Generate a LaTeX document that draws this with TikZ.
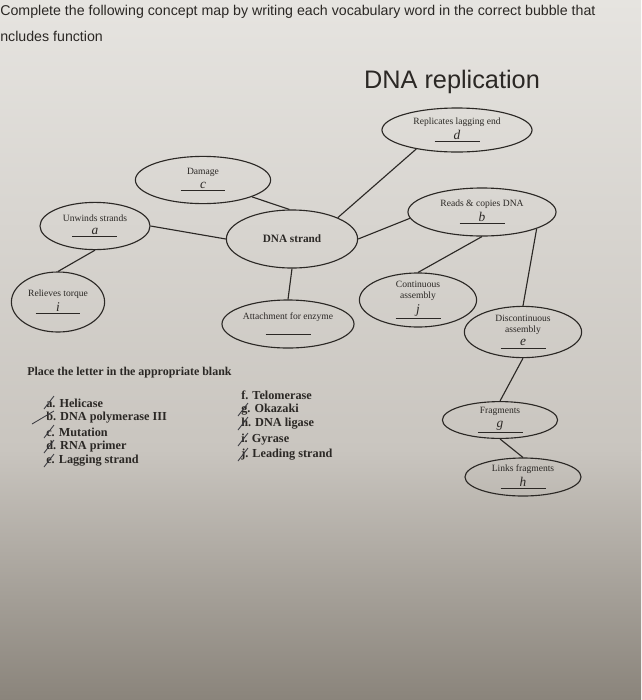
\documentclass[tikz,border=0pt]{standalone}
\usepackage{fontspec}
\setmainfont{Liberation Serif}
\newfontfamily\headfont{Liberation Sans}
\usepackage{tikz}
\usetikzlibrary{shapes.geometric}
\definecolor{ink}{HTML}{2B2825}
\definecolor{pen}{HTML}{3A3A40}
\definecolor{paperhi}{HTML}{E6E4E0}
\definecolor{papermid}{HTML}{C9C5BF}
\definecolor{paperlo}{HTML}{8A847B}
\newcommand{\blank}[1]{\underline{\makebox[32pt]{\fontsize{9.5}{9.5}\selectfont\itshape #1}}}
\tikzset{
  bubble/.style={ellipse,draw=ink,line width=0.8pt,inner sep=0pt,align=center,
    font=\fontsize{6.8}{7.6}\selectfont,text=ink},
  link/.style={draw=ink,line width=0.8pt},
  pen/.style={draw=pen,line width=0.6pt},
  item/.style={anchor=west,inner sep=0pt,font=\fontsize{8.7}{9}\selectfont\bfseries,text=ink},
}

\begin{document}
\begin{tikzpicture}[x=0.025cm,y=-0.025cm]
  % paper
  \useasboundingbox (0,0) rectangle (641,700);
  \clip (0,0) rectangle (641,700);
  \shade[top color=paperhi,bottom color=papermid] (0,0) rectangle (641,450);
  \shade[top color=papermid,bottom color=paperlo] (0,450) rectangle (641,700);

  % heading
  \node[anchor=west,inner sep=0pt,text=ink,font=\headfont\fontsize{10.1}{11}\selectfont] (title1) at (0,12)
    {Complete the following concept map by writing each vocabulary word in the correct bubble that};
  \node[anchor=west,inner sep=0pt,text=ink,font=\headfont\fontsize{10.1}{11}\selectfont] (title2) at (0,36)
    {ncludes function};
  \node[text=ink,font=\headfont\fontsize{18}{20}\selectfont] (head) at (452,82) {DNA replication};

  % bubbles
  \node[bubble,minimum width=3.75cm,minimum height=1.1cm] (rep) at (457,130) {Replicates lagging end\\[2pt]\blank{d}};
  \node[bubble,minimum width=3.38cm,minimum height=1.18cm] (damage) at (203,180) {Damage\\[2pt]\blank{c}};
  \node[bubble,minimum width=2.75cm,minimum height=1.18cm] (unw) at (95,226) {Unwinds strands\\[2pt]\blank{a}};
  \node[bubble,minimum width=3.28cm,minimum height=1.45cm,font=\fontsize{8}{9}\selectfont\bfseries] (dna) at (292,239) {DNA strand};
  \node[bubble,minimum width=3.7cm,minimum height=1.2cm] (reads) at (482,212) {Reads \& copies DNA\\[2pt]\blank{b}};
  \node[bubble,minimum width=2.33cm,minimum height=1.5cm] (relieve) at (58,302) {Relieves torque\\[2pt]\blank{i}};
  \node[bubble,minimum width=3.3cm,minimum height=1.2cm] (attach) at (288,324) {Attachment for enzyme\\[2pt]\blank{}};
  \node[bubble,minimum width=2.93cm,minimum height=1.35cm] (cont) at (418,300) {Continuous\\assembly\\[2pt]\blank{j}};
  \node[bubble,minimum width=2.93cm,minimum height=1.28cm] (discont) at (523,332) {Discontinuous\\assembly\\[2pt]\blank{e}};
  \node[bubble,minimum width=2.88cm,minimum height=0.92cm] (frag) at (500,420) {Fragments\\[2pt]\blank{g}};
  \node[bubble,minimum width=2.9cm,minimum height=0.95cm] (links) at (523,477) {Links fragments\\[2pt]\blank{h}};

  % connectors
  \draw[link] (damage.-19) -- (dna.95);
  \draw[link] (unw.east) -- (dna.west);
  \draw[link] (unw.south) -- (relieve.north);
  \draw[link] (dna.25) -- (rep.205);
  \draw[link] (dna.east) -- (reads.185);
  \draw[link] (dna.south) -- (attach.north);
  \draw[link] (reads.south) -- (cont.north);
  \draw[link] (reads.-17) -- (discont.north);
  \draw[link] (discont.south) -- (frag.north);
  \draw[link] (frag.south) -- (links.north);

  % word list
  \node[anchor=west,inner sep=0pt,text=ink,font=\fontsize{8.5}{9}\selectfont\bfseries] (place) at (27,373)
    {Place the letter in the appropriate blank};
  \foreach \y/\txt/\nm in {403/{a. Helicase}/ia, 418/{b. DNA polymerase III}/ib, 432/{c. Mutation}/ic,
      447/{d. RNA primer}/id, 461/{e. Lagging strand}/ie} {
    \node[item] (\nm) at (46,\y) {\txt};
  }
  \foreach \y/\txt/\nm in {395/{f. Telomerase}/jf, 410/{g. Okazaki}/jg, 424/{h. DNA ligase}/jh,
      440/{i. Gyrase}/ji, 455/{j. Leading strand}/jj} {
    \node[item] (\nm) at (241,\y) {\txt};
  }
  % crossed-out letters
  \foreach \x/\y/\l in {44/403/10, 32/418/22, 44/432/10, 44/447/10, 44/461/10, 238/410/10, 238/424/10, 238/440/10, 238/455/10} {
    \draw[pen] ({\x},{\y+6}) -- ({\x+\l},{\y-7});
  }
\end{tikzpicture}
\end{document}
